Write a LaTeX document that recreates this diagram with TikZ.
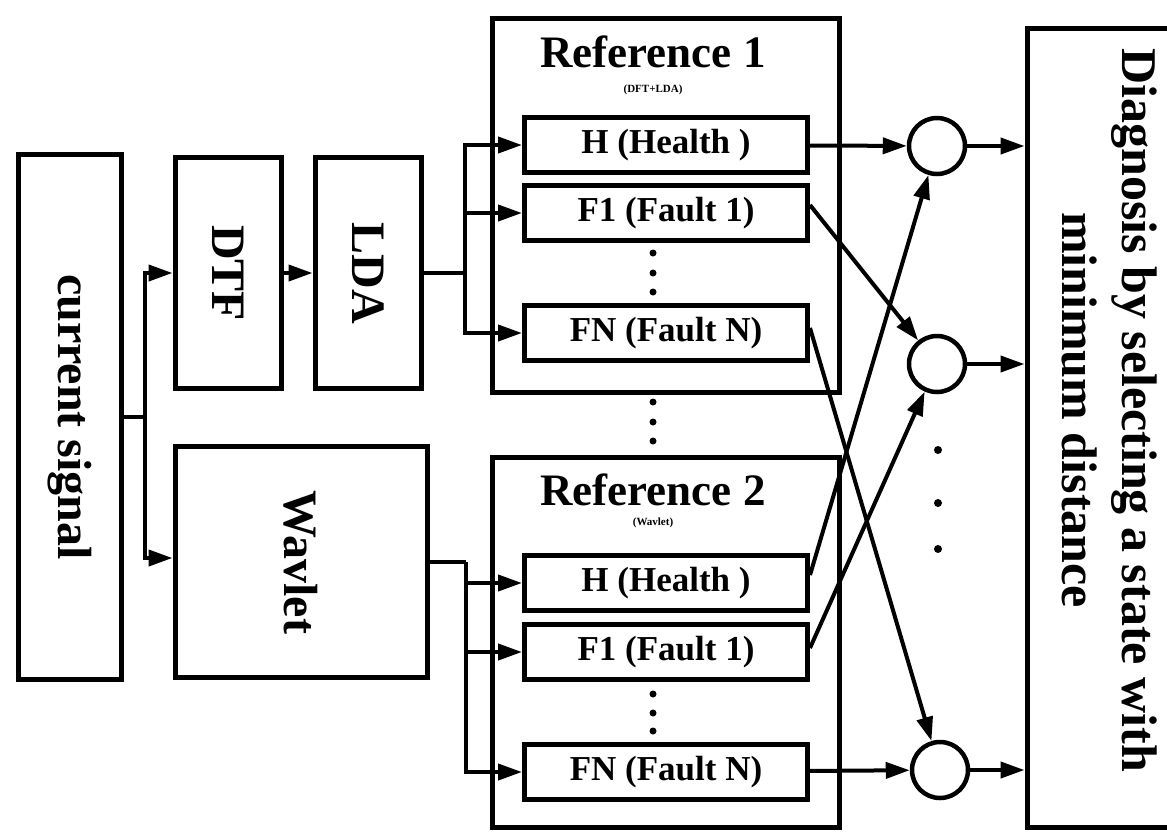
\documentclass[tikz,border=0pt]{standalone}
\usepackage{fontspec}
\setmainfont{Liberation Serif}
\usepackage{graphicx}
\usetikzlibrary{arrows.meta, calc}

\tikzset{
  blk/.style={draw, line width=5pt, inner sep=0pt, font=\fontsize{48}{54}\selectfont\bfseries},
  refbox/.style={draw, line width=5pt, inner sep=0pt, minimum width=347, anchor=north},
  state/.style={draw, line width=5pt, inner sep=0pt, minimum width=283, minimum height=55, font=\fontsize{35}{40}\selectfont\bfseries},
  summer/.style={draw, circle, line width=4.5pt, minimum size=56, inner sep=0pt},
  ttl/.style={font=\fontsize{45}{50}\selectfont\bfseries, inner sep=0pt},
  subttl/.style={font=\fontsize{11}{12}\selectfont\bfseries, inner sep=0pt},
  wire/.style={line width=4pt},
  arr/.style={line width=4pt, -{Triangle[length=24pt, width=16pt]}},
}

\begin{document}
\begin{tikzpicture}[x=1pt, y=-1pt]
  \useasboundingbox (0,0) rectangle (1167,831);
  \fill[white] (0,0) rectangle (1167,831);

  % input and feature extraction
  \node[blk, minimum width=103, minimum height=525] (sig) at (70,417) {\rotatebox{-90}{current signal}};
  \node[blk, minimum width=106, minimum height=231] (dtf) at (228,273) {\rotatebox{-90}{DTF}};
  \node[blk, minimum width=106, minimum height=231] (lda) at (368,273) {\rotatebox{-90}{LDA}};
  \node[blk, minimum width=252, minimum height=231] (wav) at (301,562) {\rotatebox{-90}{Wavlet}};

  % reference sets
  \node[refbox, minimum height=374] (ref1) at (666,16) {};
  \node[refbox, minimum height=370] (ref2) at (666,455) {};
  \node[ttl] (t1) at (653,52) {Reference 1};
  \node[subttl] (s1) at (653,90) {(DFT+LDA)};
  \node[ttl] (t2) at (653,490) {Reference 2};
  \node[subttl] (s2) at (653,523) {(Wavlet)};

  \node[state] (h1) at (666,145) {H (Health )};
  \node[state] (f1) at (666,213) {F1 (Fault 1)};
  \node[state] (fn1) at (666,333) {FN (Fault N)};
  \node[state] (h2) at (666,583) {H (Health )};
  \node[state] (f2) at (666,652) {F1 (Fault 1)};
  \node[state] (fn2) at (666,772) {FN (Fault N)};

  % distance nodes and decision
  \node[summer] (c1) at (937,146) {};
  \node[summer] (c2) at (937,364) {};
  \node[summer] (c3) at (940,770) {};
  \node[draw, line width=5pt, minimum width=163, minimum height=799] (diag) at (1108.5,427.5) {};
  \node[font=\fontsize{50}{60}\selectfont\bfseries, rotate=-90, align=center, inner sep=0pt] (dtxt) at (1110,410)
    {Diagnosis by selecting a state with\\minimum distance};

  \foreach \y in {253,273,292,402,422,441,694,713,731}
    \fill (653,\y) circle (3.5);
  \foreach \y in {450,503,549}
    \fill (938,\y) circle (4);

  % connections
  \draw[wire] (sig.east) -- ++(21,0) coordinate (j0);
  \draw[arr] (j0) |- (dtf.west);
  \draw[arr] (j0) |- ([yshift=4pt]wav.west);
  \draw[arr] (dtf) -- (lda);
  \draw[wire] (lda.east) -- ++(41,0) coordinate (b1);
  \draw[wire] (wav.east) -- ++(36,0) coordinate (b2);
  \foreach \s in {h1,f1,fn1}
    \draw[arr] (b1) |- (\s.west);
  \foreach \s in {h2,f2,fn2}
    \draw[arr] (b2) |- (\s.west);

  \draw[arr] (h1) -- (c1);
  \draw[arr] ([yshift=8pt]f1.east) -- (c2);
  \draw[arr] ([yshift=5pt]fn1.east) -- (c3);
  \draw[arr] ([yshift=8pt]h2.east) -- (c1);
  \draw[arr] ([yshift=4pt]f2.east) -- (c2);
  \draw[arr] (fn2) -- (c3);
  \foreach \c in {c1,c2,c3}
    \draw[arr] (\c) -- (\c -| diag.west);
\end{tikzpicture}
\end{document}
